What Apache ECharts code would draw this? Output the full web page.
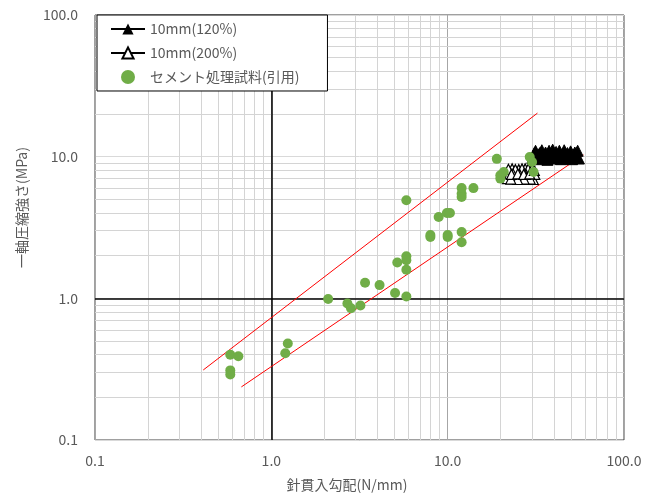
<!DOCTYPE html>
<html>
<head>
<meta charset="utf-8" />
<title>needle penetration</title>
<script src="https://cdn.jsdelivr.net/npm/echarts@6/dist/echarts.min.js"></script>
<style>
  html, body { margin: 0; padding: 0; background: #fff; }
  #main { width: 657px; height: 499px; }
</style>
</head>
<body>
<div id="main"></div>
<script>
// 10mm(120%) - 針貫入試験 (x: N/mm, y: MPa)
var needle120 = [
  [30.6,10.2],[31.5,11.0],[32.4,9.6],[33.3,10.6],[34.2,11.1],[35.0,9.8],[35.9,10.7],[36.8,9.5],
  [37.6,11.0],[38.5,10.1],[39.4,11.2],[40.3,9.7],[41.2,10.8],[42.0,9.9],[43.0,11.0],[43.9,9.6],
  [44.8,10.5],[45.8,11.1],[46.8,9.7],[47.8,10.6],[48.8,9.9],[49.8,10.9],[50.8,9.6],[52.0,10.3],
  [53.2,9.8],[54.6,11.0],[55.5,9.7],[52.6,10.7],[49.3,10.2],[46.3,10.3],[43.4,10.2],[40.7,10.4],
  [38.0,10.4],[35.5,10.3],[33.0,10.4],[31.0,10.6],[30.2,9.8]
];
// 10mm(200%)
var needle200 = [
  [21.8,7.0],[22.5,7.6],[23.2,8.2],[23.9,7.0],[24.6,7.5],[25.3,8.1],[26.0,6.9],[26.8,7.6],
  [27.5,8.2],[28.3,7.0],[29.0,7.5],[29.8,8.1],[30.6,6.9],[31.2,7.5],[30.2,8.2],[29.4,6.95],
  [28.6,8.15],[27.8,7.5],[27.1,6.95],[26.4,8.2],[25.6,7.5],[24.9,6.9],[24.2,8.1],[23.5,7.55],
  [22.8,6.95],[22.1,8.15],[23.0,7.5],[25.0,7.55],[27.0,7.5],[29.2,7.55],[31.0,8.0]
];
// セメント処理試料(引用)
var cement = [
  [0.585,0.40],[0.65,0.39],[0.585,0.31],[0.585,0.29],[1.2,0.41],[1.24,0.48],
  [2.1,0.99],[2.7,0.92],[2.83,0.85],[3.2,0.89],[3.4,1.29],[4.11,1.24],[5.03,1.09],[5.83,1.03],
  [5.18,1.79],[5.83,1.98],[5.83,1.86],[5.83,1.59],[7.98,2.71],[7.98,2.8],[10.0,2.71],[10.0,2.8],
  [12.0,2.94],[12.0,2.49],[5.83,4.92],[8.89,3.75],[9.9,4.0],[10.3,4.0],[12.0,6.0],[12.0,5.48],
  [12.0,5.19],[14.0,6.0],[19.0,9.65],[19.9,7.0],[19.9,7.38],[20.8,7.8],[29.2,9.94],[30.1,9.16],[30.7,7.79]
];
// 範囲線 (赤)
var upperLine = [[0.411,0.312],[32.3,20.3]];
var lowerLine = [[0.676,0.237],[58.9,10.3]];

var decades = [0.1, 1, 10];
var minorSteps = [2,3,4,5,6,7,8,9];

var minorX = [], minorY = [];
decades.forEach(function (d) {
  minorSteps.forEach(function (m) {
    var v = +(d * m).toPrecision(3);
    minorX.push({ xAxis: v });
    minorY.push({ yAxis: v });
  });
});

var myChart = echarts.init(document.getElementById('main'));

function fmt(v) { return (+v).toFixed(1); }

var option = {
  animation: false,
  textStyle: { fontFamily: "'Noto Sans CJK JP', 'Noto Sans', sans-serif" },
  grid: {
    left: 95, right: 33, top: 15, bottom: 59,
    show: true, borderColor: '#404040', borderWidth: 1
  },
  legend: {
    data: ['10mm(120%)', '10mm(200%)', 'セメント処理試料(引用)'],
    orient: 'vertical',
    left: 97, top: 15,
    padding: [7, 28, 7, 13],
    itemGap: 10,
    itemWidth: 34, itemHeight: 14,
    backgroundColor: '#fff',
    borderColor: '#000', borderWidth: 1,
    textStyle: { color: '#595959', fontSize: 14 }
  },
  xAxis: {
    type: 'log', logBase: 10, min: 0.1, max: 100,
    name: '針貫入勾配(N/mm)',
    nameLocation: 'middle', nameGap: 38,
    nameTextStyle: { color: '#595959', fontSize: 14, padding: [0, 25, 0, 0] },
    axisLine: { show: false },
    axisTick: { show: false },
    axisLabel: { color: '#595959', fontSize: 14, margin: 14, formatter: fmt },
    splitLine: { show: true, lineStyle: { color: '#a6a6a6', width: 1 } }
  },
  yAxis: {
    type: 'log', logBase: 10, min: 0.1, max: 100,
    name: '一軸圧縮強さ(MPa)',
    nameLocation: 'middle', nameGap: 66,
    nameTextStyle: { color: '#595959', fontSize: 14, padding: [0, 0, 0, 40] },
    axisLine: { show: false },
    axisTick: { show: false },
    axisLabel: { color: '#595959', fontSize: 14, margin: 17, formatter: fmt },
    splitLine: { show: true, lineStyle: { color: '#d9d9d9', width: 1 } }
  },
  series: [
    {
      name: 'grid-minor', type: 'line', data: [], silent: true, z: 1,
      markLine: {
        silent: true, symbol: 'none', z: 1, animation: false,
        label: { show: false },
        lineStyle: { color: '#d4d4d4', width: 1, type: 'solid' },
        emphasis: { disabled: true },
        data: minorX.concat(minorY)
      }
    },
    {
      name: 'axis-one', type: 'line', data: [], silent: true, z: 1,
      markLine: {
        silent: true, symbol: 'none', z: 1, animation: false,
        label: { show: false },
        lineStyle: { color: '#000', width: 1.5, type: 'solid' },
        emphasis: { disabled: true },
        data: [{ xAxis: 1 }, { yAxis: 1 }]
      }
    },
    {
      name: 'upper', type: 'line', data: upperLine, symbol: 'none', z: 3,
      lineStyle: { color: '#ff0000', width: 1 }
    },
    {
      name: 'lower', type: 'line', data: lowerLine, symbol: 'none', z: 3,
      lineStyle: { color: '#ff0000', width: 1 }
    },
    {
      name: '10mm(200%)', type: 'line', data: needle200, z: 4,
      symbol: 'triangle', symbolSize: 10, showAllSymbol: true,
      lineStyle: { color: '#000', width: 1.5 },
      itemStyle: { color: '#fff', borderColor: '#000', borderWidth: 1.2 }
    },
    {
      name: '10mm(120%)', type: 'line', data: needle120, z: 4,
      symbol: 'triangle', symbolSize: 11, showAllSymbol: true,
      lineStyle: { color: '#000', width: 1.5 },
      itemStyle: { color: '#000', borderColor: '#000' }
    },
    {
      name: 'セメント処理試料(引用)', type: 'scatter', data: cement, z: 6,
      symbol: 'circle', symbolSize: 10,
      itemStyle: { color: '#70ad47', opacity: 1 }
    }
  ]
};

myChart.setOption(option);
</script>
</body>
</html>
